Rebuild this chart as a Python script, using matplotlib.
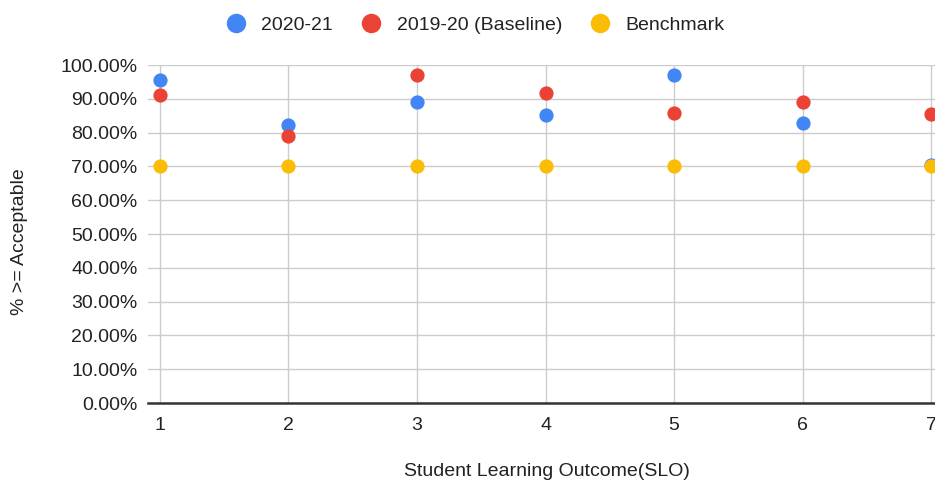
import matplotlib
matplotlib.use("Agg")
import matplotlib.pyplot as plt
from matplotlib.ticker import PercentFormatter, FixedLocator
from matplotlib.lines import Line2D

plt.rcParams['font.family'] = ['Liberation Sans', 'DejaVu Sans']

# Student learning outcomes and share of students rated acceptable or better
slo = [1, 2, 3, 4, 5, 6, 7]
year_2020_21 = [0.955, 0.822, 0.890, 0.852, 0.971, 0.827, 0.705]
baseline_2019_20 = [0.910, 0.789, 0.971, 0.916, 0.858, 0.890, 0.855]
benchmark = [0.70, 0.70, 0.70, 0.70, 0.70, 0.70, 0.70]

series = [
    ("2020-21", year_2020_21, "#4285f4"),
    ("2019-20 (Baseline)", baseline_2019_20, "#ea4335"),
    ("Benchmark", benchmark, "#fbbc04"),
]

text_color = "#222222"
fs = 14

fig = plt.figure(figsize=(9.35, 4.83), dpi=100)
ax = fig.add_axes([0.1583, 0.1656, 0.8417, 0.6998])

for name, vals, color in series:
    ax.scatter(slo, vals, s=105, color=color, label=name, zorder=3,
               linewidths=0, clip_on=False)

ax.set_xlim(0.907, 7.03)
ax.set_ylim(0, 1.0)
ax.yaxis.set_major_locator(FixedLocator([i / 10 for i in range(11)]))
ax.yaxis.set_major_formatter(PercentFormatter(xmax=1.0, decimals=2))
ax.set_xticks(slo)

ax.grid(True, color="#cccccc", linewidth=1.0, zorder=0)
for side in ["top", "right", "left"]:
    ax.spines[side].set_visible(False)
ax.spines["bottom"].set_color("#333333")
ax.spines["bottom"].set_linewidth(1.8)
ax.spines["bottom"].set_zorder(2)

ax.tick_params(axis="both", length=0, labelsize=fs, colors=text_color)
ax.tick_params(axis="y", pad=7.5)
ax.tick_params(axis="x", pad=10)

# Axis titles placed in figure coordinates
fig.text(547 / 935, 1 - 471 / 483, "Student Learning Outcome(SLO)",
         fontsize=fs, color=text_color, ha="center", va="center")
fig.text(20 / 935, 1 - 242 / 483, "% >= Acceptable", rotation=90,
         fontsize=fs, color=text_color, ha="center", va="center")

handles = [Line2D([], [], marker="o", linestyle="", markersize=14,
                  markerfacecolor=c, markeredgewidth=0, label=n)
           for n, _, c in series]
fig.legend(handles=handles, loc="center", bbox_to_anchor=(0.5075, 0.948),
           ncol=3, frameon=False, fontsize=fs, handletextpad=0.7,
           columnspacing=1.38, labelcolor=text_color, handlelength=1.2)

fig.savefig("out.png", dpi=100)
